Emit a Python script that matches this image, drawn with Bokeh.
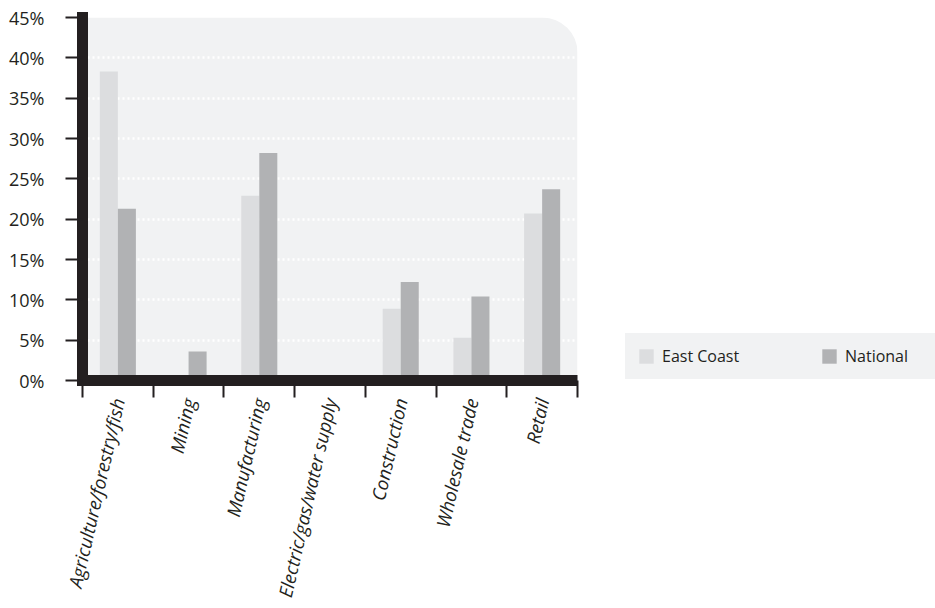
import math
from bokeh.plotting import figure
from bokeh.layouts import row
from bokeh.models import (Range1d, FixedTicker, PrintfTickFormatter, BoxAnnotation,
                          Legend, LegendItem, ColumnDataSource)
from bokeh.embed import file_html
from bokeh.resources import INLINE

# ---- data ----
categories = ["Agriculture/forestry/fish", "Mining", "Manufacturing",
              "Electric/gas/water supply", "Construction", "Wholesale trade", "Retail"]
east_coast = [38.3, 0.0, 22.9, 0.0, 8.9, 5.3, 20.7]
national = [21.3, 3.6, 28.2, 0.0, 12.2, 10.4, 23.7]
series_names = ["East Coast", "National"]
y_ticks = [0, 5, 10, 15, 20, 25, 30, 35, 40, 45]

# ---- style ----
INK = "#231f20"
BG = "#f1f2f3"
C_EAST = "#dcdddf"
C_NAT = "#b1b2b4"
FONT = "Open Sans"

n = len(categories)
centers = [i + 0.5 for i in range(n)]
bar_w = 0.255
src = ColumnDataSource(dict(
    cat=categories,
    xe=[c - bar_w / 2 for c in centers],
    xn=[c + bar_w / 2 for c in centers],
    east=east_coast,
    nat=national,
))

p = figure(width=600, height=608, x_range=Range1d(0, n), y_range=Range1d(y_ticks[0], y_ticks[-1]),
           output_backend="svg", toolbar_location=None,
           min_border_left=82, min_border_right=23, min_border_top=17, min_border_bottom=228)
p.background_fill_color = "white"
p.border_fill_color = "white"
p.outline_line_color = None

# plot panel background with rounded top-right corner
bg = BoxAnnotation(fill_color=BG, fill_alpha=1.0, line_color=None,
                   border_radius=(0, 35, 0, 0), level="image")
p.add_layout(bg)

# bars
r_e = p.vbar(x="xe", top="east", bottom=0, width=bar_w, source=src,
             fill_color=C_EAST, line_color=None)
r_n = p.vbar(x="xn", top="nat", bottom=0, width=bar_w, source=src,
             fill_color=C_NAT, line_color=None)

# grid
yt = FixedTicker(ticks=y_ticks)
p.xgrid.visible = False
p.ygrid.ticker = yt
p.ygrid.grid_line_color = "white"
p.ygrid.grid_line_width = 2.5
p.ygrid.grid_line_dash = "2 3"

# y axis
ya = p.yaxis[0]
ya.ticker = yt
ya.formatter = PrintfTickFormatter(format="%d%%")
ya.axis_line_color = INK
ya.axis_line_width = 11
ya.axis_line_cap = "square"
ya.major_tick_out = 17
ya.major_tick_in = 0
ya.major_tick_line_color = INK
ya.major_tick_line_width = 2
ya.minor_tick_line_color = None
ya.major_label_standoff = 21
ya.major_label_text_font = FONT
ya.major_label_text_font_size = "18px"
ya.major_label_text_color = INK

# x axis
xa = p.xaxis[0]
xa.ticker = FixedTicker(ticks=centers, minor_ticks=list(range(n + 1)))
xa.major_label_overrides = {c: lab for c, lab in zip(centers, categories)}
xa.major_label_orientation = 77 * math.pi / 180
xa.axis_line_color = INK
xa.axis_line_width = 11
xa.major_tick_line_color = None
xa.major_tick_out = 0
xa.major_tick_in = 0
xa.minor_tick_line_color = INK
xa.minor_tick_line_width = 2
xa.minor_tick_out = 17
xa.minor_tick_in = 0
xa.major_label_standoff = 1
xa.major_label_text_font = FONT
xa.major_label_text_font_style = "italic"
xa.major_label_text_font_size = "18.5px"
xa.major_label_text_color = INK

# ---- legend panel (separate figure to the right) ----
q = figure(width=335, height=608, x_range=Range1d(0, 1), y_range=Range1d(0, 1),
           output_backend="svg", toolbar_location=None,
           min_border_left=0, min_border_right=0, min_border_top=0, min_border_bottom=0)
q.axis.visible = False
q.grid.visible = False
q.outline_line_color = None
q.background_fill_color = "white"
q.border_fill_color = "white"
l_e = q.vbar(x="xe", top="east", bottom=0, width=bar_w, source=src, fill_color=C_EAST, line_color=None)
l_n = q.vbar(x="xn", top="nat", bottom=0, width=bar_w, source=src, fill_color=C_NAT, line_color=None)
l_e.visible = False
l_n.visible = False

legend = Legend(items=[LegendItem(label=series_names[0], renderers=[l_e]),
                       LegendItem(label=series_names[1], renderers=[l_n])],
                orientation="horizontal", location=(25, 1), margin=0, padding=11,
                background_fill_color=BG, background_fill_alpha=1.0,
                border_line_color=BG, border_line_width=1,
                glyph_width=18, glyph_height=18, label_standoff=7, label_width=79, spacing=79,
                label_text_font=FONT, label_text_font_size="16px", label_text_color=INK)
q.add_layout(legend)

layout = row(p, q, spacing=0)
open("out.html", "w").write(file_html(layout, INLINE))
